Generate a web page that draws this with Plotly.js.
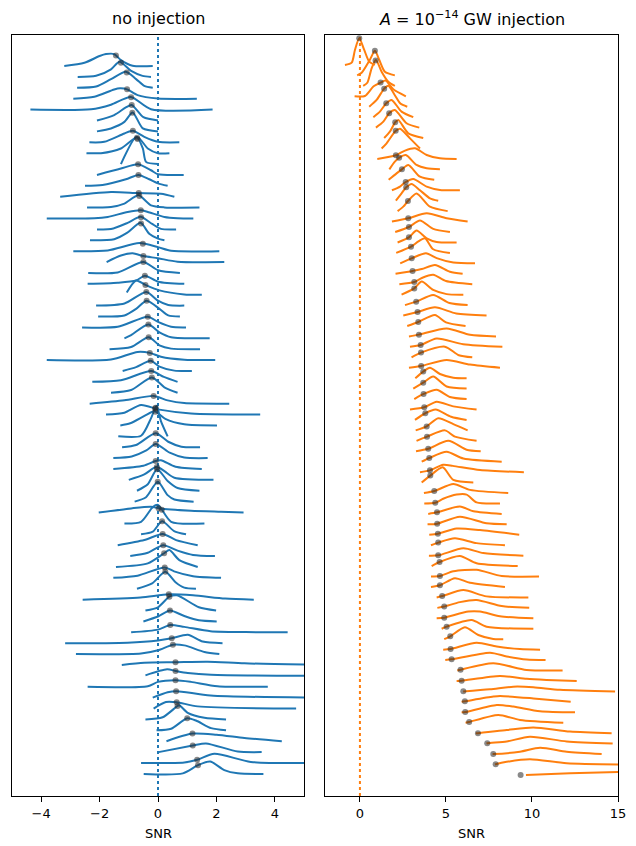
<!DOCTYPE html>
<html><head><meta charset="utf-8">
<script src="https://cdn.plot.ly/plotly-3.0.1.min.js"></script>
<style>html,body{margin:0;padding:0;background:#fff}#chart{width:636px;height:846px}</style>
</head><body><div id="chart"></div>
<script>
const leftTitle = 'no injection';
const rightTitle = '<i>A</i> = 10<sup>−14</sup> GW injection';
const xLabel = 'SNR';
const leftTicks = [-4, -2, 0, 2, 4];
const leftTickText = ['−4', '−2', '0', '2', '4'];
const rightTicks = [0, 5, 10, 15];
const rightTickText = ['0', '5', '10', '15'];

// ---- no injection: per-realisation SNR distributions (x = SNR, density in ridge-spacing units)
const leftSNR = [
[-3.21,-2.52,-2.0,-1.78,-1.5,-1.27,-0.87,-0.18],
[-2.75,-2.12,-1.61,-1.32,-0.92,-0.53,-0.24],
[-2.77,-2.12,-1.61,-1.1,-0.75,-0.47,-0.18],
[-2.9,-2.18,-1.5,-1.3,-1.06,-0.7,0,1.33],
[-4.37,-2.29,-1.61,-0.93,-0.24,1.87],
[-2.09,-1.5,-1.1,-0.9,-0.5,0.0],
[-2.09,-1.61,-1.15,-0.87,-0.52,0.0],
[-2.35,-1.84,-1.15,-0.86,-0.47,0,0.73],
[-2.45,-1.95,-1.27,-0.7,-0.35,0,0.39],
[-1.27,-0.74,-0.52,-0.41,0.0],
[-2.09,-1.27,-0.68,-0.24,0,0.88],
[-2.5,-1.9,-1.1,-0.67,-0.3,0,0.33],
[-3.35,-1.61,-0.7,0.1,0.56],
[-2.43,-1.61,-1.15,-0.67,-0.24,0.22,1.42],
[-3.81,-2.18,-1.72,-1.04,-0.58,-0.35,0.22,0.67,1.21],
[-2.09,-1.61,-1.04,-0.6,-0.2,0.1,0.62],
[-2.33,-1.5,-1.05,-0.6,-0.3,0,0.22],
[-2.9,-1.72,-0.64,0,0.45,2.1],
[-1.76,-1.27,-0.87,-0.5,0,0.67,2.27],
[-2.39,-1.38,-0.5,0,0.75],
[-2.41,-1.38,-0.75,-0.45,0,0.9],
[-1.07,-0.75,-0.43,0.05,0.9,1.5],
[-2.12,-1.15,-0.4,0,0.35,0.9],
[-2.05,-1.15,-0.75,-0.39,0.05,0.35,0.75],
[-2.6,-1.38,-0.35,0,0.45,0.96],
[-1.15,-0.92,-0.33,0.05,0.45,1.77],
[-1.66,-0.92,-0.32,0.05,0.45,1.44],
[-3.81,-1.61,-0.7,-0.28,0.1,0.9,1.96],
[-1.21,-0.75,-0.25,0.05,0.56,1.16],
[-2.25,-1.27,-0.23,0.2,0.67],
[-1.61,-0.92,-0.21,0.22,0.67],
[-2.34,-1.15,-0.15,0.33,0.9,2.44],
[-1.78,-1.15,-0.58,0.05,1.13,3.5],
[-1.29,-0.95,-0.45,-0.12,0.25,0.9,2.02],
[-1.36,-0.58,-0.24,-0.05,0.1,0.33],
[-1.23,-0.75,-0.08,0.35,0.8,1.44],
[-1.53,-0.9,-0.4,-0.08,0.4,0.9,1.7],
[-1.53,-0.5,-0.08,0.1,0.6,1.5],
[-1.0,-0.47,-0.05,0.22,0.56,1.9],
[-0.72,-0.35,-0.03,0.33,0.67,1.42],
[-0.8,-0.41,-0.01,0.33,0.56,1.22],
[-2.03,-0.92,-0.24,0.05,1.13,2.16,2.93],
[-1.15,-0.58,-0.18,0,0.45,1.59],
[-0.58,-0.18,0.14,0.55,0.96],
[-1.38,-0.47,0.16,0.62,1.36],
[-0.95,-0.35,0.18,0.67,1.2,1.95],
[-1.44,-0.35,0.21,0.39,0.73,1.36],
[-1.53,-0.7,0.23,0.55,1.2,2.16],
[-0.72,-0.2,0.25,0.6,0.9,1.3],
[-2.58,-0.6,0.37,1.2,2.3,3.28],
[-0.43,0,0.39,0.65,1.4,1.99],
[-0.5,0,0.41,0.9,1.4,2.01],
[-0.92,0,0.42,0.9,1.8,3.0,4.44],
[-3.18,-1.04,0,0.47,1.02,1.53,2.21],
[-2.81,-0.58,0,0.51,0.9,1.59,2.1],
[-1.24,-0.47,0.61,1.7,2.96,5.3],
[-0.43,0.31,0.61,1.02,1.82,5.3],
[-2.41,-0.35,0,0.61,1.13,2.04,3.76],
[-0.18,0.33,0.63,1.8,5.3],
[-0.15,0.27,0.64,1.36,4.73],
[-0.43,0.16,0.67,0.73,1.02,1.59,2.33],
[-0.05,0.45,1.0,1.3,1.82,2.33],
[0.29,1.18,2.0,2.96,4.24],
[0.02,1.19,1.64,2.73,3.55],
[-0.58,0.9,1.34,1.93,3.18,5.3],
[-0.49,0.85,1.37,1.79,2.27,2.73,3.61]
];
const leftDensity = [
[0,0.3,0.92,1.1,1.1,0.55,0.03,0],
[0,0.1,0.7,1.4,0.55,0.1,0],
[0,0.12,0.8,1.47,0.8,0.18,0],
[0,0.18,0.85,0.95,0.86,0.33,0.02,0],
[0,0.03,0.45,1.15,0.03,0],
[0,0.5,1.2,1.42,0.3,0],
[0,0.27,0.87,1.74,0.27,0],
[0,0.04,0.81,1.05,0.5,0.04,0],
[0,0,0.43,1.45,0.43,0,0],
[0,2.5,1.43,0.2,0],
[0,0.59,0.98,0.43,0.06,0],
[0,0.07,0.6,1.0,0.6,0.23,0],
[0,0.43,0.34,0.28,0],
[0,0.06,0.37,1.13,0.21,0.02,0],
[0,0.02,0.14,0.6,0.75,0.6,0.14,0.02,0],
[0,0.03,0.6,1.15,0.5,0.05,0],
[0,0.1,0.7,1.6,0.6,0.15,0],
[0,0.07,0.74,0.37,0.03,0],
[0,0.6,0.8,0.55,0.35,0.03,0],
[0,0.05,1.0,0.25,0],
[0,0.1,0.3,0.74,0.2,0],
[0.2,1.3,0.9,0.4,0.03,0],
[0,0.2,1.25,0.45,0.05,0],
[0,0.1,0.7,1.45,0.7,0.1,0],
[0,0.05,0.98,0.5,0.05,0],
[0,0.3,1.27,0.55,0.1,0],
[0,0.2,1.1,0.35,0.05,0],
[0,0.05,0.75,0.66,0.3,0.03,0],
[0,0.35,0.93,0.4,0.03,0],
[0,0.15,1.0,0.45,0],
[0,0.25,1.4,0.5,0],
[0,0.3,0.71,0.3,0.05,0],
[0,0.17,0.87,0.45,0.1,0],
[0,0.2,0.9,1.3,0.6,0.1,0],
[0,0.05,1.65,2.8,1.4,0],
[0,0.2,1.28,0.5,0.05,0],
[0,0.15,0.7,1.3,0.5,0.05,0],
[0,0.3,0.73,0.8,0.2,0],
[0,0.5,1.2,0.8,0.2,0],
[0,0.6,1.97,0.9,0.25,0],
[0,0.4,1.83,0.6,0.2,0],
[0,0.38,0.53,0.38,0.17,0.07,0],
[0,0.15,1.5,1.7,0.15,0],
[0,0.24,1.2,0.3,0],
[0,0.47,1.03,0.47,0],
[0,0.3,1.0,0.5,0.1,0],
[0,0.33,1.26,1.55,0.63,0],
[0,0.2,0.96,0.6,0.15,0],
[0,0.5,1.56,0.6,0.1,0],
[0,0.2,0.49,0.4,0.1,0],
[0,0.3,1.27,1.4,0.3,0],
[0,0.45,1.0,0.5,0.1,0],
[0,0.25,0.67,0.5,0.1,0.02,0],
[0,0.05,0.25,0.45,0.77,0.15,0],
[0,0.05,0.35,0.86,0.8,0.2,0],
[0,0.2,0.25,0.3,0.15,0.02],
[0.05,0.6,0.45,0.27,0.1,0],
[0,0.05,0.45,0.6,0.45,0.05,0],
[0,0.5,0.6,0.2,0],
[0,0.6,0.58,0.2,0],
[0,0.2,1.24,1.3,0.6,0.15,0],
[0,0.15,1.11,0.9,0.2,0],
[0,0.7,0.6,0.3,0],
[0,0.6,0.8,0.05,0],
[0,0.05,0.3,0.85,0.1,0],
[0,0.05,0.8,1.13,0.35,0.05,0]
];
const leftPoint = [-1.44,-1.27,-1.07,-1.06,-0.92,-0.90,-0.88,-0.86,-0.72,-0.70,-0.68,-0.67,-0.66,-0.64,-0.59,-0.58,-0.58,-0.52,-0.50,-0.50,-0.45,-0.43,-0.40,-0.39,-0.35,-0.33,-0.32,-0.28,-0.25,-0.23,-0.21,-0.15,-0.10,-0.09,-0.08,-0.08,-0.08,-0.08,-0.04,-0.03,-0.01,0.02,0.13,0.14,0.16,0.18,0.21,0.23,0.25,0.37,0.39,0.41,0.42,0.47,0.51,0.60,0.60,0.60,0.62,0.64,0.67,1.00,1.18,1.19,1.34,1.37];

// ---- A = 1e-14 GW injection
const rightSNR = [
[-0.87,-0.48,-0.29,-0.04,0.25,0.54,0.87],
[-0.16,0.1,0.58,0.87,1.12,1.45,2.03],
[0.19,0.43,0.68,0.93,1.26,1.65,2.03],
[-0.31,0.29,0.78,1.2,1.49,1.94,2.67],
[0.54,0.97,1.41,1.65,2.03,2.35,2.75],
[0.78,1.16,1.53,1.84,2.42,3.1],
[0.93,1.36,1.71,2.03,2.71,3.45],
[1.41,1.74,2.05,2.23,2.81,3.68],
[1.26,1.55,2.07,2.33,2.91,3.49],
[1.01,2.09,2.62,3.2,3.88,4.65,5.62],
[1.71,2.03,2.29,2.67,3.29,3.88,4.65],
[1.67,2.13,2.44,2.81,3.49,4.32],
[1.86,2.33,2.66,3.1,3.88,4.65,5.81],
[2.09,2.42,2.69,3.0,3.49,4.07,4.55],
[2.19,2.52,2.79,3.29,4.07,5.1],
[1.86,2.81,3.88,5.04,6.26],
[2.05,2.85,3.49,4.26,5.23],
[2.19,2.85,3.29,3.88,4.46,5.62],
[2.11,2.97,3.4,3.78,4.26,5.23],
[2.34,3.0,3.84,4.46,5.43,6.69],
[2.07,3.06,3.6,4.36,5.23,5.97],
[2.29,3.16,3.6,4.26,5.0,6.53],
[2.42,3.16,3.59,4.26,5.04,6.01],
[2.62,3.28,4.26,5.2,6.26],
[2.52,3.35,4.36,5.6,7.36],
[2.75,3.39,4.36,5.0,6.14],
[2.85,3.43,5.04,6.4,7.91],
[2.91,3.53,4.46,6.0,8.28],
[3.0,3.55,4.94,5.75,6.53],
[2.85,3.56,5.04,6.4,8.14],
[3.22,3.68,4.07,4.65,5.43,6.2],
[3.1,3.68,4.26,5.04,6.2],
[3.16,3.7,4.46,5.23,6.2],
[2.91,3.74,4.46,5.43,6.78],
[3.2,3.8,4.4,5.3,6.2],
[3.24,3.88,4.55,5.43,6.26],
[3.29,3.9,4.94,5.52,6.78],
[3.26,3.97,5.14,6.2,7.02],
[3.59,4.03,5.04,6.01,8.24],
[3.49,4.07,4.84,5.4,6.98,9.53],
[3.59,4.09,4.81,5.43,6.59],
[3.72,4.32,5.43,6.4,8.62],
[3.74,4.38,4.84,5.62,6.2,6.78,8.14],
[3.97,4.48,5.81,6.6,8.24],
[3.93,4.49,5.81,7.36,8.53],
[4.03,4.53,5.62,6.98,9.26],
[4.13,4.55,5.52,6.78,8.43],
[4.01,4.55,6.01,7.17,9.5],
[4.17,4.63,5.81,6.78,9.17],
[4.13,4.65,5.43,6.78,8.24,10.41],
[4.13,4.65,5.52,6.4,8.43],
[4.46,4.79,6.01,7.36,9.79],
[4.5,4.9,5.81,6.78,8.24,9.84],
[4.46,4.9,6.3,6.98,8.14,10.08],
[4.75,5.04,6.49,7.36,10.08],
[4.9,5.25,6.1,6.88,7.75,8.33],
[4.84,5.27,6.78,7.95,9.3,10.47],
[4.96,5.33,7.56,8.53,9.7,10.79],
[5.66,5.85,7.75,9.69,11.78],
[5.62,5.91,8.14,9.69,10.85,12.6],
[6.0,7.56,8.91,10.08,11.63,14.83],
[5.91,6.1,7.75,8.14,10.08,12.25],
[5.91,6.12,7.95,8.91,10.47,12.5],
[6.14,6.35,8.04,9.3,11.82],
[6.74,6.86,8.53,10.08,12.21,14.63],
[7.36,7.4,8.53,9.88,12.02,14.69],
[7.71,7.75,9.3,10.47,12.02,14.05],
[7.85,7.89,8.53,9.88,12.02,15.5],
[9.65,12.21,15.5]
];
const rightDensity = [
[0,0.22,1.44,2.56,1.44,0.32,0],
[0,0.25,1.5,2.35,1.5,0.35,0],
[0,0.3,1.68,2.48,1.36,0.4,0],
[0,0.03,0.93,1.31,1.5,0.67,0],
[0,0.65,1.73,2.0,1.1,0.3,0],
[0,0.53,1.33,1.65,0.53,0],
[0,0.57,1.4,1.69,0.42,0],
[0,0.61,1.51,1.73,0.45,0],
[0,0.5,1.68,1.9,0.97,0],
[0,0.35,0.8,1.02,0.38,0.06,0],
[0,0.74,1.13,1.37,0.42,0.1,0],
[0,0.62,1.0,1.42,0.3,0],
[0,0.35,0.79,1.08,0.35,0.03,0],
[0,0.71,1.28,1.6,1.0,0.23,0],
[0,0.43,0.97,1.7,0.42,0],
[0,0.31,0.8,0.31,0],
[0,0.48,1.1,0.3,0],
[0,0.49,1.14,0.4,0.05,0],
[0,0.6,1.1,1.4,0.35,0],
[0,0.48,0.96,0.5,0.07,0],
[0,0.27,0.45,0.85,0.2,0],
[0,0.21,0.6,0.9,0.3,0],
[0,0.6,1.25,0.45,0.05,0],
[0,0.33,0.97,0.2,0],
[0,0.34,0.79,0.2,0],
[0,0.38,1.05,0.35,0],
[0,0.17,0.76,0.15,0],
[0,0.18,0.8,0.25,0],
[0,0.45,1.02,0.2,0],
[0,0.17,0.75,0.3,0],
[0,0.63,1.0,0.4,0.05,0],
[0,0.57,1.15,0.2,0],
[0,0.49,0.9,0.2,0],
[0,0.21,0.75,0.3,0],
[0,0.64,1.0,0.3,0],
[0,0.38,1.16,0.6,0],
[0,0.4,1.0,0.4,0],
[0,0.24,1.0,0.15,0],
[0,0.35,0.95,0.3,0],
[0,0.17,0.7,0.6,0.2,0],
[0,0.67,1.46,0.25,0],
[0,0.19,0.86,0.3,0],
[0,0.07,0.45,0.85,0.85,0.1,0],
[0,0.15,0.7,0.25,0],
[0,0.06,0.73,0.1,0],
[0,0.1,0.6,0.45,0],
[0,0.25,0.67,0.2,0],
[0,0.03,0.7,0.25,0],
[0,0.39,0.97,0.27,0],
[0,0.05,0.5,0.65,0.05,0],
[0,0.16,0.84,0.4,0],
[0,0.13,0.7,0.1,0],
[0,0.13,0.55,0.75,0.17,0],
[0,0.06,0.65,0.65,0.2,0],
[0,0.2,0.84,0.2,0],
[0,0.27,1.14,0.4,0.02,0],
[0,0.06,0.67,0.3,0.05,0],
[0,0.07,0.71,0.35,0.05,0],
[0,0.08,0.69,0.05,0],
[0,0.02,0.48,0.2,0.1,0],
[0,0.2,0.45,0.4,0.15,0],
[0,0.05,0.5,0.56,0.33,0],
[0,0.02,0.7,0.55,0.1,0],
[0,0.07,0.74,0.27,0],
[0,0,0.3,0.55,0.15,0],
[0,0.03,0.2,0.66,0.2,0],
[0,0,0.22,0.6,0.22,0],
[0,0.02,0.25,0.5,0.12,0],
[0,0.16,0.3]
];
const rightPoint = [-0.04,0.87,0.91,1.20,1.41,1.53,1.70,2.05,2.08,2.09,2.28,2.44,2.66,2.69,2.79,2.81,2.85,2.85,2.97,3.01,3.06,3.16,3.16,3.27,3.35,3.39,3.43,3.53,3.55,3.56,3.68,3.68,3.70,3.74,3.80,3.88,3.90,3.97,4.03,4.07,4.09,4.32,4.38,4.48,4.49,4.53,4.55,4.55,4.63,4.65,4.65,4.78,4.90,4.90,5.04,5.25,5.27,5.33,5.85,5.91,6.01,6.10,6.12,6.35,6.86,7.40,7.75,7.89,9.34];

const blue = '#1f77b4', orange = '#ff7f0e';
const FONT = 'DejaVu Sans, Liberation Sans, sans-serif';

function heightAt(xs, hs, x) {
  if (x < xs[0] || x > xs[xs.length - 1]) return 0;
  for (let k = 1; k < xs.length; k++) {
    if (x <= xs[k]) {
      const t = (x - xs[k - 1]) / (xs[k] - xs[k - 1] || 1);
      return hs[k - 1] + t * (hs[k] - hs[k - 1]);
    }
  }
  return 0;
}

function panel(snr, dens, pts, color, xa, ya) {
  const tr = [];
  snr.forEach((xs, i) => {
    tr.push({
      type: 'scatter', mode: 'lines', xaxis: xa, yaxis: ya,
      x: xs, y: xs.map((_, k) => i - dens[i][k]),
      line: {color: color, width: 2, shape: 'spline', smoothing: 0.7},
      hoverinfo: 'skip', showlegend: false
    });
  });
  tr.push({
    type: 'scatter', mode: 'markers', xaxis: xa, yaxis: ya,
    x: pts, y: pts.map((p, i) => i - heightAt(snr[i], dens[i], p)),
    marker: {color: 'rgba(40,40,40,0.55)', size: 6, line: {width: 0}},
    hoverinfo: 'skip', showlegend: false
  });
  return tr;
}

const traces = [].concat(
  panel(leftSNR, leftDensity, leftPoint, blue, 'x', 'y'),
  panel(rightSNR, rightDensity, rightPoint, orange, 'x2', 'y2')
);

const H = 846, W = 636;
const yDom = [1 - 796 / H, 1 - 35 / H];
const axisCommon = {
  showline: true, mirror: true, linecolor: 'black', linewidth: 1,
  showgrid: false, zeroline: false
};
const layout = {
  width: W, height: H,
  margin: {l: 0, r: 0, t: 0, b: 0},
  paper_bgcolor: 'white', plot_bgcolor: 'white',
  font: {family: FONT, size: 13, color: 'black'},
  showlegend: false,
  xaxis: Object.assign({}, axisCommon, {
    domain: [12 / W, 304 / W], range: [-5, 5], anchor: 'y',
    tickvals: leftTicks, ticktext: leftTickText,
    ticks: 'outside', ticklen: 5, tickwidth: 1, tickcolor: 'black',
    tickfont: {size: 13, family: FONT}
  }),
  yaxis: Object.assign({}, axisCommon, {
    domain: yDom, range: [67.03, -2.85], anchor: 'x',
    showticklabels: false, ticks: ''
  }),
  xaxis2: Object.assign({}, axisCommon, {
    domain: [325 / W, 618 / W], range: [-2.03, 15], anchor: 'y2',
    tickvals: rightTicks, ticktext: rightTickText,
    ticks: 'outside', ticklen: 5, tickwidth: 1, tickcolor: 'black',
    tickfont: {size: 13, family: FONT}
  }),
  yaxis2: Object.assign({}, axisCommon, {
    domain: yDom, range: [70.02, -2.87], anchor: 'x2',
    showticklabels: false, ticks: ''
  }),
  shapes: [
    {type: 'line', xref: 'x', yref: 'y domain', x0: 0, x1: 0, y0: 0, y1: 1,
     line: {color: blue, width: 2, dash: 'dot'}, layer: 'below'},
    {type: 'line', xref: 'x2', yref: 'y2 domain', x0: 0, x1: 0, y0: 0, y1: 1,
     line: {color: orange, width: 2, dash: 'dot'}, layer: 'below'}
  ],
  annotations: [
    {text: leftTitle, xref: 'paper', yref: 'paper', x: 158 / W, y: 1 - 19 / H,
     xanchor: 'center', yanchor: 'middle', showarrow: false, font: {size: 16, family: FONT}},
    {text: rightTitle, xref: 'paper', yref: 'paper', x: 471.5 / W, y: 1 - 19 / H,
     xanchor: 'center', yanchor: 'middle', showarrow: false, font: {size: 16, family: FONT}},
    {text: xLabel, xref: 'paper', yref: 'paper', x: 158 / W, y: 1 - 833 / H,
     xanchor: 'center', yanchor: 'middle', showarrow: false, font: {size: 13, family: FONT}},
    {text: xLabel, xref: 'paper', yref: 'paper', x: 471.5 / W, y: 1 - 833 / H,
     xanchor: 'center', yanchor: 'middle', showarrow: false, font: {size: 13, family: FONT}}
  ]
};

Plotly.newPlot('chart', traces, layout, {staticPlot: true, displayModeBar: false});
</script>
</body></html>
